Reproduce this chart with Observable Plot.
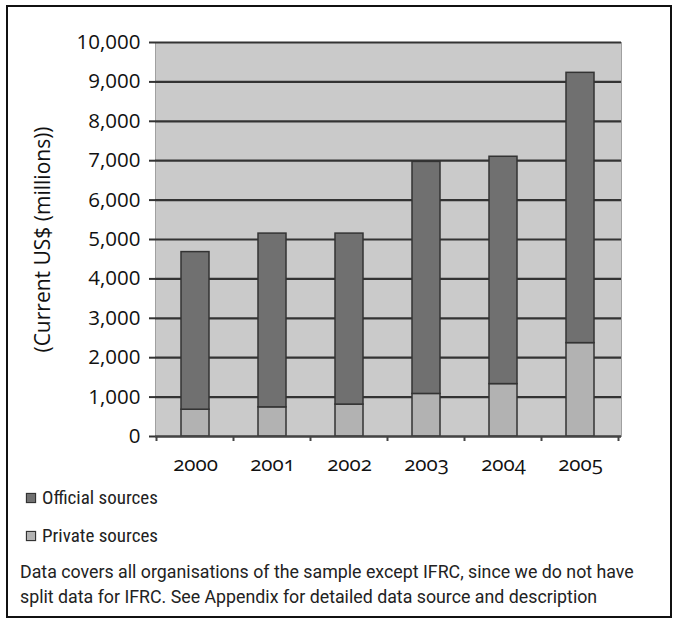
<!DOCTYPE html>
<html>
<head>
<meta charset="utf-8">
<script src="https://cdn.jsdelivr.net/npm/d3@7"></script>
<script src="https://cdn.jsdelivr.net/npm/@observablehq/plot@0.6"></script>
<style>
  html, body { margin: 0; padding: 0; background: #fff; }
  #wrap { position: relative; width: 675px; height: 622px; overflow: hidden; }
  #border { position: absolute; left: 6px; top: 5px; width: 662px; height: 609px; border: 2px solid #111; }
  #chart { position: absolute; left: 0; top: 0; }
  .leg { position: absolute; left: 26px; font-family: "Liberation Sans Narrow", "Roboto Condensed", "DejaVu Sans Condensed", sans-serif; font-size: 19px; color: #222; display: flex; align-items: center; }
  .sw { width: 8px; height: 8px; border: 1px solid #333; margin-right: 6px; box-shadow: 0 0 1px #555; }
  #note { position: absolute; left: 20px; top: 559px; font-family: Roboto, "Liberation Sans", sans-serif; font-size: 17.8px; line-height: 25px; color: #222; }
</style>
</head>
<body>
<div id="wrap">
  <div id="border"></div>
  <div id="chart"></div>
  <div id="legend"></div>
  <div id="note">Data covers all organisations of the sample except IFRC, since we do not have<br>split data for IFRC. See Appendix for detailed data source and description</div>
</div>
<script>
const years = ["2000", "2001", "2002", "2003", "2004", "2005"];
const privateSources = [680, 740, 810, 1080, 1330, 2370];
const officialSources = [4000, 4410, 4340, 5890, 5770, 6860];
const seriesNames = ["Private sources", "Official sources"];
const seriesColors = ["#b2b2b2", "#707070"];
const yTicks = [0, 1000, 2000, 3000, 4000, 5000, 6000, 7000, 8000, 9000, 10000];

const rows = [];
years.forEach((y, i) => {
  rows.push({year: y, source: seriesNames[0], value: privateSources[i]});
  rows.push({year: y, source: seriesNames[1], value: officialSources[i]});
});

function boundaryTicks(index, scales, values, dimensions) {
  const x = scales.x;
  const step = x.step();
  const pad = (step - x.bandwidth()) / 2;
  const yb = dimensions.height - dimensions.marginBottom;
  const g = d3.create("svg:g");
  const xs = years.map(d => x(d) - pad);
  xs.push(x(years[years.length - 1]) + x.bandwidth() + pad);
  for (const xv of xs) {
    g.append("line").attr("x1", xv).attr("x2", xv).attr("y1", yb).attr("y2", yb + 5)
      .attr("stroke", "#444").attr("stroke-width", 2);
  }
  return g.node();
}

const chart = Plot.plot({
  width: 675,
  height: 480,
  marginLeft: 155,
  marginRight: 54,
  marginTop: 42,
  marginBottom: 44,
  style: {fontFamily: "'Open Sans', sans-serif", fontSize: "20px", color: "#111", fontVariantNumeric: "oldstyle-nums", background: "transparent"},
  x: {domain: years, paddingInner: 0.63, paddingOuter: 0.315, label: null},
  y: {domain: [0, 10000], label: null},
  color: {domain: seriesNames, range: seriesColors},
  marks: [
    Plot.frame({fill: "#cacaca", stroke: "#a0a0a0", strokeWidth: 1}),
    Plot.gridY(yTicks, {stroke: "#333", strokeOpacity: 1, strokeWidth: 2.2}),
    Plot.barY(rows, {x: "year", y: "value", fill: "source", order: seriesNames, stroke: "#333", strokeWidth: 1.5}),
    Plot.ruleY([0], {stroke: "#444", strokeWidth: 2}),
    Plot.axisY(yTicks, {tickFormat: d3.format(","), tickSize: 6, tickPadding: 9, stroke: "#333", strokeWidth: 2, fontSize: 20.5}),
    Plot.axisX({tickSize: 0, tickPadding: 20, fontSize: 20.5}),
    boundaryTicks,
    Plot.text(["(Current US$ (millions))"], {frameAnchor: "left", textAnchor: "middle", rotate: -90, dx: -112, fontSize: 21, fill: "#111"})
  ]
});
document.getElementById("chart").appendChild(chart);

const legend = document.getElementById("legend");
const legendOrder = [1, 0];
legendOrder.forEach((k, j) => {
  const item = document.createElement("div");
  item.className = "leg";
  item.style.top = (486 + j * 38) + "px";
  const sw = document.createElement("span");
  sw.className = "sw";
  sw.style.background = seriesColors[k];
  item.appendChild(sw);
  item.appendChild(document.createTextNode(seriesNames[k]));
  legend.appendChild(item);
});
</script>
</body>
</html>
